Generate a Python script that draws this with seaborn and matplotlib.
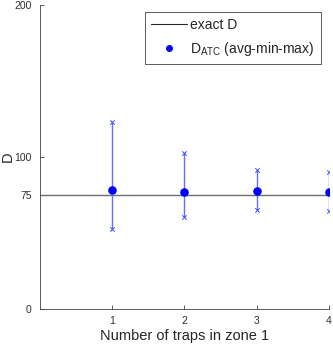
import matplotlib
matplotlib.use("Agg")
from matplotlib import pyplot as plt
from matplotlib.lines import Line2D
import seaborn as sns
import pandas as pd

# data
traps = [1, 2, 3, 4]
d_avg = [78.1, 77.0, 77.8, 77.0]
d_min = [52.4, 60.5, 64.9, 64.2]
d_max = [122.8, 102.4, 91.2, 89.9]
exact_d = 75
y_ticks = [0, 75, 100, 200]

df = pd.DataFrame({"traps": traps, "avg": d_avg, "min": d_min, "max": d_max})

sns.set_style("ticks")
plt.rcParams['font.family'] = ['Liberation Sans', 'DejaVu Sans']
plt.rcParams['mathtext.fontset'] = 'custom'
plt.rcParams['mathtext.rm'] = 'Liberation Sans'
plt.rcParams['mathtext.it'] = 'Liberation Sans'

fig = plt.figure(figsize=(3.33, 3.46), dpi=100)
ax = fig.add_axes([0.12, 0.107, 0.868, 0.879])

blue = "#0000ff"
ax.axhline(exact_d, color="#6e6e6e", lw=1.0, zorder=1)
ax.vlines(df["traps"], df["min"], df["max"], color="#6270ff", lw=1.0, zorder=2)
sns.scatterplot(data=df, x="traps", y="min", marker="x", color="#3a4cff", s=10,
                linewidth=0.7, ax=ax, zorder=3)
sns.scatterplot(data=df, x="traps", y="max", marker="x", color="#3a4cff", s=10,
                linewidth=0.7, ax=ax, zorder=3)
sns.scatterplot(data=df, x="traps", y="avg", marker="o", color=blue, s=38,
                edgecolor=blue, linewidth=0, ax=ax, zorder=4)

ax.set_xlim(0, 4)
ax.set_ylim(0, 200)
ax.set_xticks(traps)
ax.set_yticks(y_ticks)
ax.tick_params(direction="in", length=3, width=0.6, labelsize=7.5,
               colors="#404040", labelcolor="#303030", pad=5)
ax.tick_params(axis="y", pad=6)
for side in ["top", "right"]:
    ax.spines[side].set_visible(False)
for side in ["left", "bottom"]:
    ax.spines[side].set_color("#404040")
    ax.spines[side].set_linewidth(0.6)

ax.set_xlabel("Number of traps in zone 1", fontsize=10.5, color="#262626", labelpad=2)
ax.set_ylabel("D", fontsize=10.5, color="#262626", labelpad=0)

handles = [
    Line2D([], [], color="#262626", lw=0.8),
    Line2D([], [], color=blue, marker="o", ls="none", markersize=4),
]
labels = ["exact D", r"D$_{\mathregular{ATC}}$ (avg-min-max)"]
leg = ax.legend(handles, labels, loc="upper right", bbox_to_anchor=(0.985, 0.99),
                fontsize=10, fancybox=False, framealpha=1, edgecolor="#404040",
                handlelength=2.6, handletextpad=0.2, borderpad=0.45,
                labelspacing=0.55, borderaxespad=0.3)
leg.get_frame().set_linewidth(0.6)

fig.savefig("out.png", dpi=100)
